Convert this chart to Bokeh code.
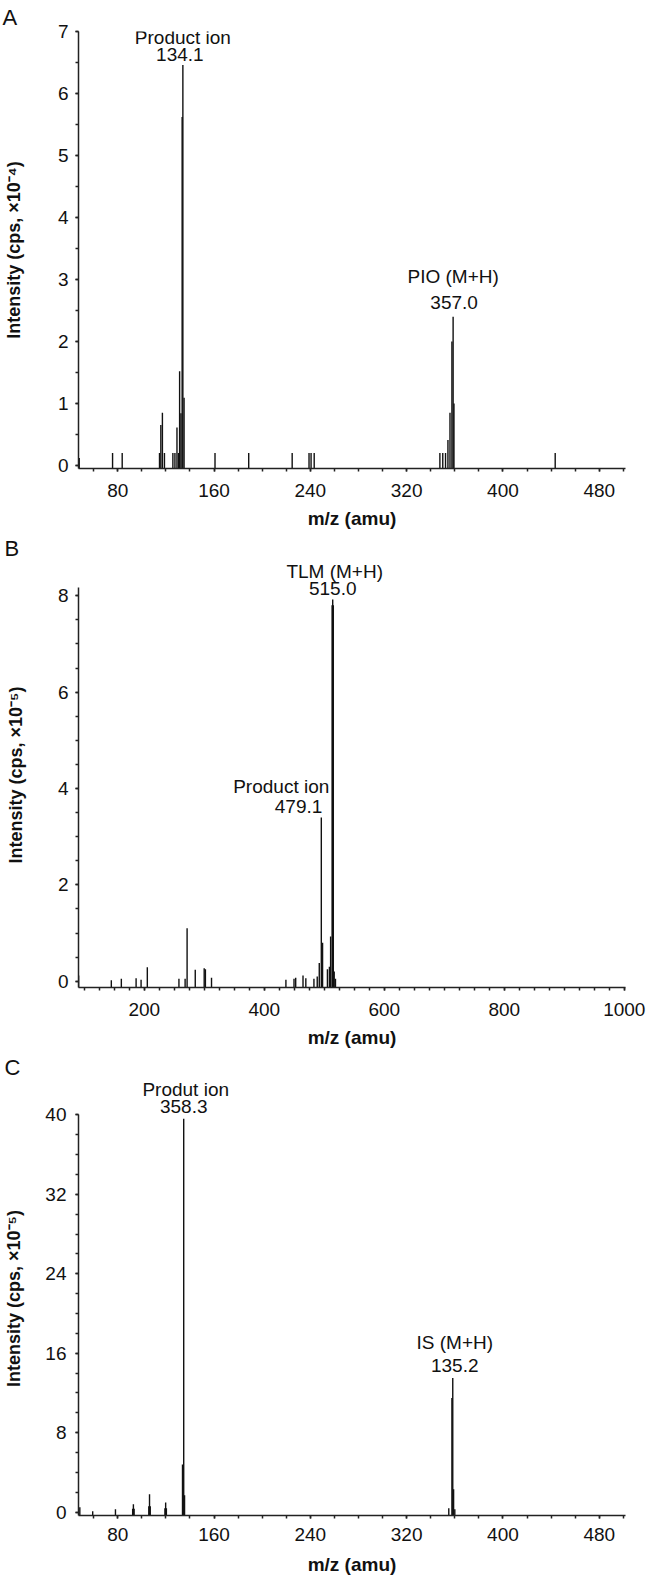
from bokeh.plotting import figure
from bokeh.layouts import column
from bokeh.models import Label, SingleIntervalTicker, Range1d
from bokeh.embed import file_html
from bokeh.resources import INLINE

FONT = "Liberation Sans"

# ---------------- Panel A ----------------
A_mz = [48.0, 75.7, 83.7, 114.7, 115.8, 117.1, 118.8, 125.8, 127.5, 129.2, 130.5,
        131.4, 132.5, 133.5, 134.1, 135.1, 160.8, 188.8, 224.9, 238.9, 240.6, 243.2,
        347.6, 350.0, 352.3, 354.3, 356.0, 357.6, 358.6, 359.3, 443.4]
A_int = [0.12, 0.2, 0.2, 0.2, 0.65, 0.85, 0.2, 0.2, 0.2, 0.61, 0.2,
         1.52, 0.84, 5.62, 6.46, 1.09, 0.2, 0.2, 0.2, 0.2, 0.2, 0.2,
         0.2, 0.2, 0.2, 0.41, 0.85, 2.0, 2.40, 1.0, 0.2]
A_xrange = (47.4, 501.8)
A_ybase = -0.05
A_ytop = 7.0
A_ann_mz = [134.1, 358.6]
A_ann_name = ["Product ion", "PIO (M+H)"]
A_ann_value = ["134.1", "357.0"]
A_ylabel = "Intensity (cps, \u00d710\u207b\u2074)"

# ---------------- Panel B ----------------
B_mz = [90.5, 145.0, 161.7, 186.3, 194.6, 205.0, 257.7, 268.0, 271.3, 284.9, 299.8,
        301.8, 312.0, 436.0, 449.5, 452.3, 464.5, 469.2, 482.7, 488.2, 491.6, 495.0,
        497.1, 505.2, 508.5, 510.5, 513.0, 514.0, 515.0, 516.5, 518.6]
B_int = [0.12, 0.02, 0.05, 0.06, 0.03, 0.29, 0.05, 0.05, 1.10, 0.24, 0.27,
         0.25, 0.07, 0.03, 0.05, 0.07, 0.12, 0.06, 0.05, 0.10, 0.38, 3.40,
         0.80, 0.25, 0.30, 0.93, 7.80, 7.92, 7.80, 0.2, 0.05]
B_xrange = (90.3, 1002.0)
B_ybase = -0.13
B_ytop = 8.17
B_ann_mz = [514.0, 495.0]
B_ann_name = ["TLM (M+H)", "Product ion"]
B_ann_value = ["515.0", "479.1"]
B_ylabel = "Intensity (cps, \u00d710\u207b\u2075)"

# ---------------- Panel C ----------------
C_mz = [48.5, 59.2, 78.1, 92.4, 93.0, 93.6, 105.8, 106.4, 107.0, 119.2, 119.8, 120.4,
        133.8, 134.8, 135.5, 355.0, 357.6, 358.3, 359.0, 360.0]
C_int = [0.5, 0.1, 0.3, 0.35, 0.8, 0.35, 0.6, 1.8, 0.6, 0.4, 0.97, 0.4,
         4.8, 39.6, 1.7, 0.4, 11.5, 13.5, 2.3, 0.3]
C_xrange = (47.4, 501.8)
C_ybase = -0.34
C_ytop = 40.0
C_ann_mz = [134.8, 358.3]
C_ann_name = ["Produt ion", "IS (M+H)"]
C_ann_value = ["358.3", "135.2"]
C_ylabel = "Intensity (cps, \u00d710\u207b\u2075)"


def make_panel(mz, inten, xr, ybase, ytop, px_per_unit, ylabel, letter,
               ann_mz, ann_name, ann_value, ann_style, *, height, width, top, bottom,
               left, right, x_interval, x_minor, y_interval, y_minor,
               ylab_standoff, ytick_standoff, xtick_standoff, xlab_standoff, letter_dx):
    frame_h = height - top - bottom
    yend = ybase + frame_h / px_per_unit
    p = figure(width=width, height=height, output_backend="svg", toolbar_location=None,
               x_range=Range1d(*xr), y_range=Range1d(ybase, yend),
               min_border_top=top, min_border_bottom=bottom,
               min_border_left=left, min_border_right=right)
    p.outline_line_color = None
    p.xgrid.visible = False
    p.ygrid.visible = False
    p.background_fill_color = "white"

    p.segment(x0=mz, y0=[ybase] * len(mz), x1=mz, y1=inten,
              line_color="#111111", line_width=1.4)

    p.xaxis.ticker = SingleIntervalTicker(interval=x_interval, num_minor_ticks=x_minor)
    p.yaxis.ticker = SingleIntervalTicker(interval=y_interval, num_minor_ticks=y_minor)
    p.yaxis.bounds = (ybase, ytop)
    for ax in (p.xaxis[0], p.yaxis[0]):
        ax.axis_line_color = "#222222"
        ax.axis_line_width = 1.5
        ax.major_tick_in = 0
        ax.major_tick_out = 3
        ax.minor_tick_in = 0
        ax.minor_tick_out = 3
        ax.major_tick_line_width = 1.5
        ax.minor_tick_line_width = 1.5
        ax.major_tick_line_color = "#222222"
        ax.minor_tick_line_color = "#222222"
        ax.major_label_text_font = FONT
        ax.major_label_text_font_size = "19px"
        ax.major_label_text_color = "#111111"
        ax.axis_label_text_font = FONT
        ax.axis_label_text_font_style = "bold"
        ax.axis_label_text_color = "#111111"
    p.xaxis.axis_label = "m/z (amu)"
    p.xaxis.axis_label_text_font_size = "19px"
    p.xaxis.major_label_standoff = xtick_standoff
    p.xaxis.axis_label_standoff = xlab_standoff
    p.yaxis.axis_label = ylabel
    p.yaxis.axis_label_text_font_size = "18px"
    p.yaxis.major_label_standoff = ytick_standoff
    p.yaxis.axis_label_standoff = ylab_standoff

    # panel letter as the plot title
    p.title.text = letter
    p.title.text_font = FONT
    p.title.text_font_size = "22px"
    p.title.text_font_style = "normal"
    p.title.text_color = "#111111"
    p.title.align = "left"
    p.title.offset = -(left + 5) + letter_dx
    p.title.vertical_align = "top"
    p.title.standoff = 0

    for m, name, val, st in zip(ann_mz, ann_name, ann_value, ann_style):
        h = inten[mz.index(m)]
        align, nx, ny, vx, vy = st
        p.add_layout(Label(x=m, y=h, x_offset=nx, y_offset=ny, text=name,
                           text_font=FONT, text_font_size="19px", text_color="#111111",
                           text_align=align, text_baseline="middle"))
        p.add_layout(Label(x=m, y=h, x_offset=vx, y_offset=vy, text=val,
                           text_font=FONT, text_font_size="19px", text_color="#111111",
                           text_align=align, text_baseline="middle"))
    return p


pa = make_panel(A_mz, A_int, A_xrange, A_ybase, A_ytop, 437 / 7.05, A_ylabel, "A",
                A_ann_mz, A_ann_name, A_ann_value,
                [("center", 0, 27, -3, 10), ("center", 0, 40, 1, 14)],
                height=535, width=646, top=31, bottom=67, left=75, right=10,
                x_interval=80, x_minor=4, y_interval=1, y_minor=2,
                ylab_standoff=31, ytick_standoff=7, xtick_standoff=12, xlab_standoff=8,
                letter_dx=4)

pb = make_panel(B_mz, B_int, B_xrange, B_ybase, B_ytop, 48.19, B_ylabel, "B",
                B_ann_mz, B_ann_name, B_ann_value,
                [("center", 2, 28, 0, 11), ("right", 8, 31, 1, 11)],
                height=519, width=646, top=27, bottom=67, left=73, right=21,
                x_interval=200, x_minor=8, y_interval=2, y_minor=4,
                ylab_standoff=29, ytick_standoff=7, xtick_standoff=12, xlab_standoff=8,
                letter_dx=4)

pc = make_panel(C_mz, C_int, C_xrange, C_ybase, C_ytop, 10.0, C_ylabel, "C",
                C_ann_mz, C_ann_name, C_ann_value,
                [("center", 2, 29, 0, 12), ("center", 2, 36, 2, 13)],
                height=527, width=646, top=24, bottom=66, left=75, right=10,
                x_interval=80, x_minor=4, y_interval=8, y_minor=4,
                ylab_standoff=18, ytick_standoff=9, xtick_standoff=9, xlab_standoff=10,
                letter_dx=6)

layout = column(pa, pb, pc, spacing=0)
open("out.html", "w").write(file_html(layout, INLINE))
